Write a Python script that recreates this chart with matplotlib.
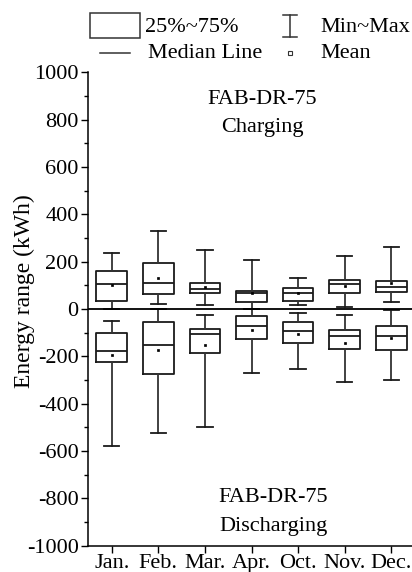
import matplotlib
matplotlib.use("Agg")
import matplotlib.pyplot as plt
from matplotlib.lines import Line2D
from matplotlib.patches import Rectangle
from matplotlib.ticker import MultipleLocator

plt.rcParams['font.family'] = ['Liberation Serif', 'DejaVu Serif']
plt.rcParams['axes.unicode_minus'] = False

months = ["Jan.", "Feb.", "Mar.", "Apr.", "Oct.", "Nov.", "Dec."]

# Charging statistics (kWh)
ch_min = [0, 22, 16, 0, 18, 8, 29]
ch_q1 = [35, 63, 67, 28, 33, 69, 71]
ch_med = [107, 109, 85, 68, 66, 105, 91]
ch_mean = [102, 130, 94, 68, 66, 99, 109]
ch_q3 = [161, 195, 109, 75, 90, 123, 118]
ch_max = [238, 328, 249, 206, 130, 226, 261]

# Discharging statistics (kWh)
dis_min = [-578, -523, -498, -271, -252, -307, -299]
dis_q1 = [-222, -274, -185, -126, -143, -167, -174]
dis_med = [-177, -150, -104, -70, -91, -115, -113]
dis_mean = [-195, -174, -153, -88, -105, -143, -123]
dis_q3 = [-101, -57, -84, -30, -54, -90, -73]
dis_max = [-50, 0, -25, 0, -19, -25, -5]

W, H = 412, 572
FS = 16
fig = plt.figure(figsize=(W / 100, H / 100), dpi=100)
ax = fig.add_axes([88.4 / W, 1 - 545.7 / H, 326.2 / W, (545.7 - 72.3) / H])

positions = list(range(1, len(months) + 1))


def make_stats(mn, q1, med, mean, q3, mx):
    return [dict(whislo=a, q1=b, med=c, mean=d, q3=e, whishi=f, fliers=[])
            for a, b, c, d, e, f in zip(mn, q1, med, mean, q3, mx)]


box_kw = dict(positions=positions, widths=0.66, showmeans=True, showfliers=False,
              patch_artist=False,
              boxprops=dict(color='#1a1a1a', linewidth=1.3),
              medianprops=dict(color='#1a1a1a', linewidth=1.3),
              whiskerprops=dict(color='#333333', linewidth=1.3),
              capprops=dict(color='#1a1a1a', linewidth=1.3),
              meanprops=dict(marker='s', markersize=1.6, markerfacecolor='black',
                             markeredgecolor='black', markeredgewidth=0.5),
              capwidths=0.33)

ax.bxp(make_stats(ch_min, ch_q1, ch_med, ch_mean, ch_q3, ch_max), **box_kw)
ax.bxp(make_stats(dis_min, dis_q1, dis_med, dis_mean, dis_q3, dis_max), **box_kw)

ax.axhline(0, color='black', linewidth=1.3, zorder=5)

ax.set_xlim(0.5, 7.5)
ax.set_ylim(-1000, 1000)
ax.set_xticks(positions)
ax.set_xticklabels(months)
ax.yaxis.set_major_locator(MultipleLocator(200))
ax.yaxis.set_minor_locator(MultipleLocator(100))
ax.tick_params(axis='both', which='major', labelsize=FS, direction='out',
               length=5, width=1, pad=2)
ax.tick_params(axis='y', which='minor', direction='out', length=3, width=1)
ax.tick_params(axis='x', which='major', pad=1)
for s in ['top', 'right']:
    ax.spines[s].set_visible(False)
for s in ['left', 'bottom']:
    ax.spines[s].set_linewidth(1.1)

ax.set_ylabel("Energy range (kWh)", fontsize=FS + 1)
ax.yaxis.set_label_coords(35 / W, 1 - 291 / H, transform=fig.transFigure)

ax.text(262 / W, 1 - 99 / H, "FAB-DR-75", transform=fig.transFigure,
        ha='center', va='center', fontsize=FS)
ax.text(262 / W, 1 - 127 / H, "Charging", transform=fig.transFigure,
        ha='center', va='center', fontsize=FS)
ax.text(273 / W, 1 - 498 / H, "FAB-DR-75", transform=fig.transFigure,
        ha='center', va='center', fontsize=FS)
ax.text(273 / W, 1 - 526 / H, "Discharging", transform=fig.transFigure,
        ha='center', va='center', fontsize=FS)

# Legend (drawn in figure coordinates)
row1, row2 = 27, 53
fig.patches.append(Rectangle((90 / W, 1 - 38 / H), 50 / W, 25 / H,
                             transform=fig.transFigure, fill=False,
                             edgecolor='#333333', linewidth=1.1))
fig.text(145 / W, 1 - row1 / H, "25%~75%", ha='left', va='center', fontsize=FS)
fig.lines.append(Line2D([100 / W, 130 / W], [1 - row2 / H, 1 - row2 / H],
                        transform=fig.transFigure, color='#333333', linewidth=1.1))
fig.text(148 / W, 1 - row2 / H, "Median Line", ha='left', va='center', fontsize=FS)
# Min~Max symbol
xc = 290 / W
fig.lines.append(Line2D([xc, xc], [1 - 15 / H, 1 - 37 / H], transform=fig.transFigure,
                        color='#333333', linewidth=1.1))
for yy in (15, 37):
    fig.lines.append(Line2D([xc - 7 / W, xc + 7 / W], [1 - yy / H, 1 - yy / H],
                            transform=fig.transFigure, color='#333333', linewidth=1.1))
fig.text(320 / W, 1 - row1 / H, "Min~Max", ha='left', va='center', fontsize=FS)
fig.lines.append(Line2D([xc], [1 - row2 / H], transform=fig.transFigure, marker='s',
                        markersize=2.3, markerfacecolor='white',
                        markeredgecolor='#333333', markeredgewidth=0.8, linestyle='none'))
fig.text(320 / W, 1 - row2 / H, "Mean", ha='left', va='center', fontsize=FS)

fig.savefig("out.png", dpi=100)
